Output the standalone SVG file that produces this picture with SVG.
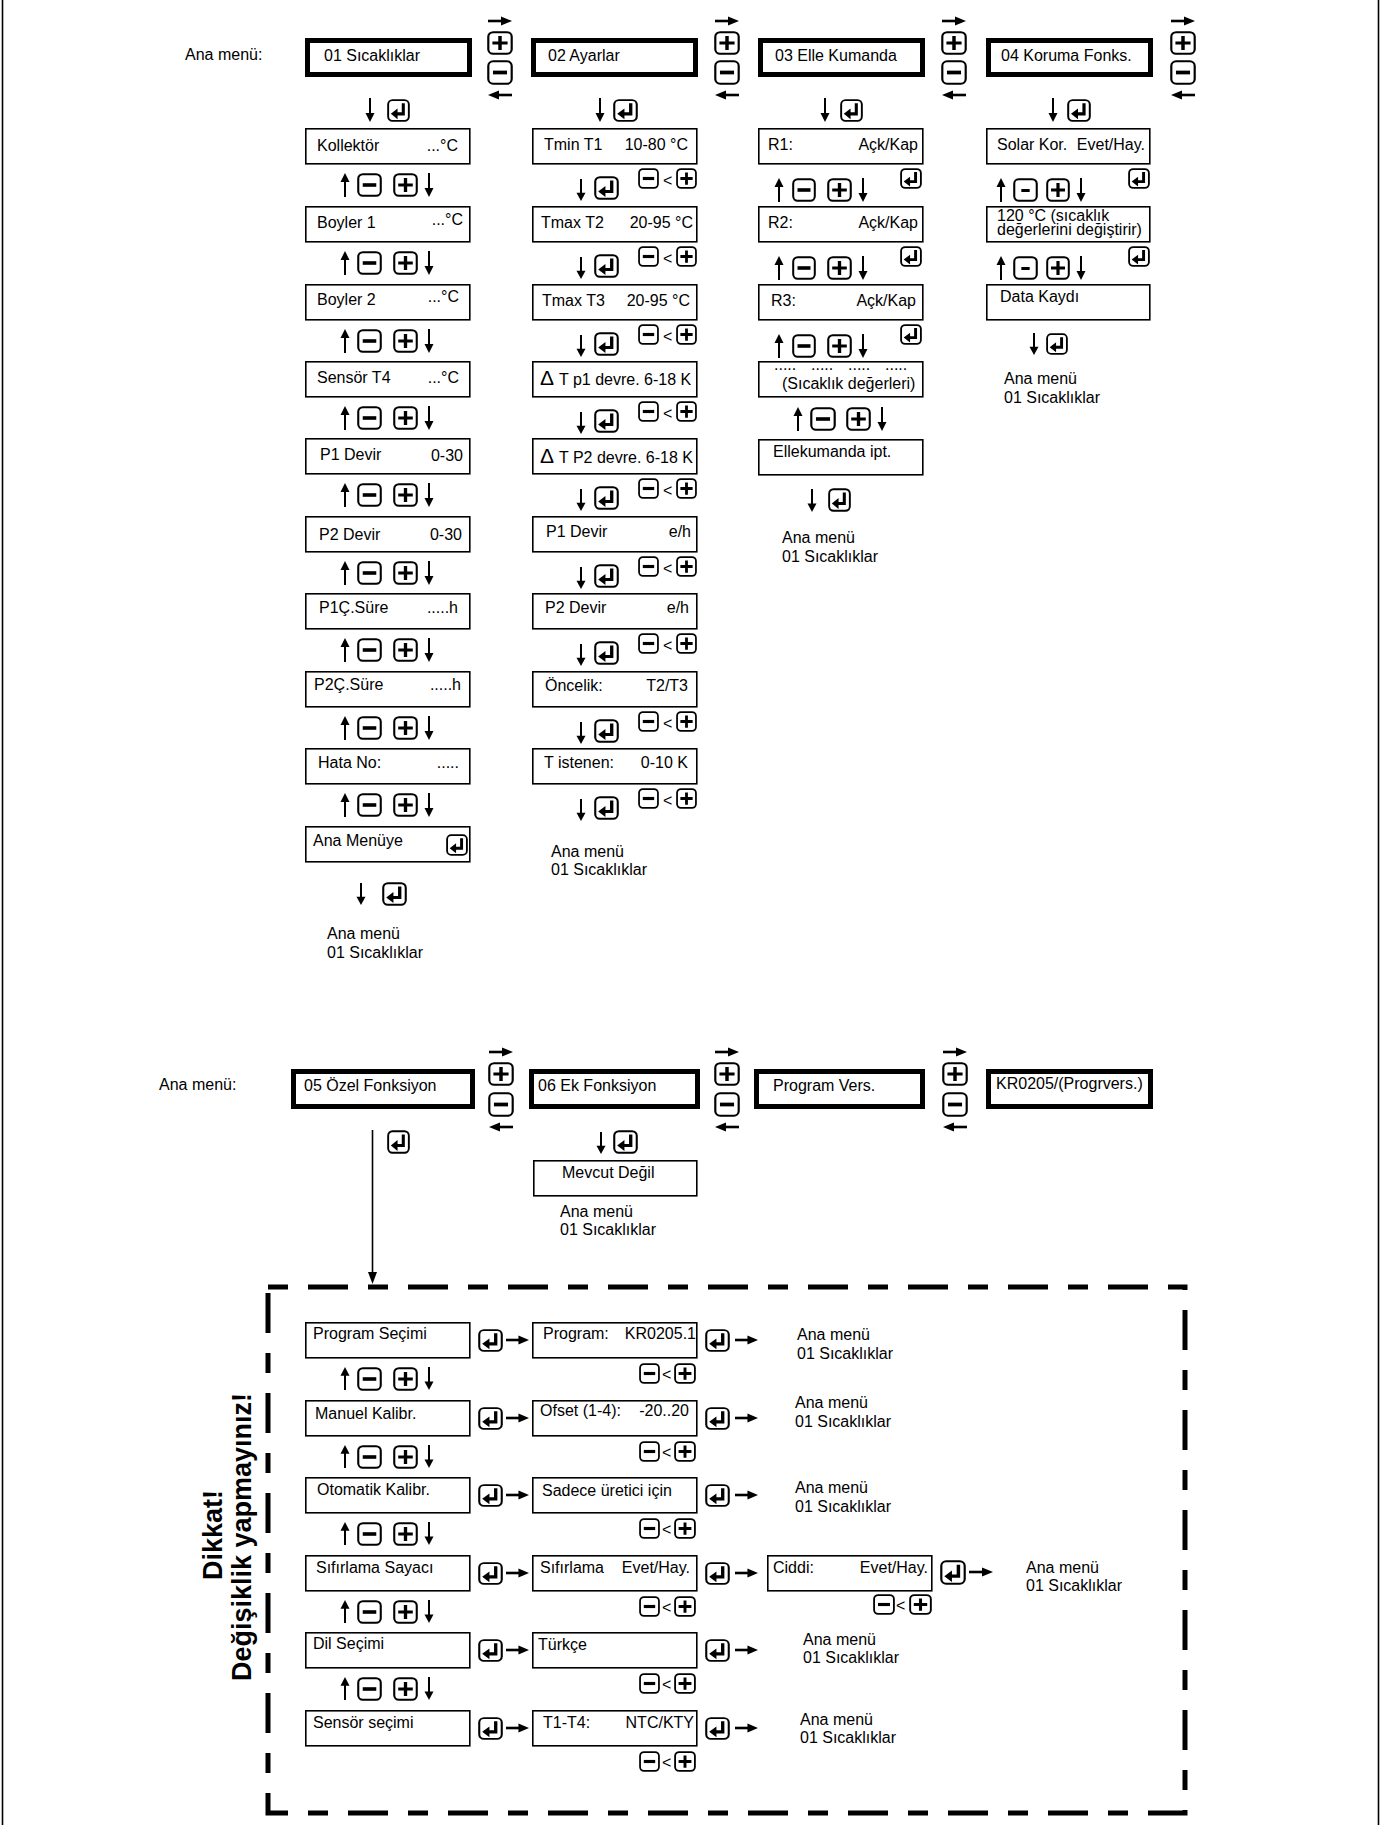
<svg xmlns="http://www.w3.org/2000/svg" width="1382" height="1825" viewBox="0 0 1382 1825">
<style>
text{font-family:"Liberation Sans",Arial,sans-serif;font-size:16px;fill:#000}
.e{text-anchor:end}
.lt{font-size:17px}
.w{font-weight:bold;font-size:27px;text-anchor:middle}
.mb{fill:#fff;stroke:#000;stroke-width:5}
.sb{fill:#fff;stroke:#000;stroke-width:1.6}
.ln{stroke:#000;stroke-width:1.6;fill:none}
.dash{fill:none;stroke:#000;stroke-width:5;stroke-dasharray:20 20 40 20}
</style>
<defs>
<symbol id="P" viewBox="0 0 24 24" preserveAspectRatio="none"><rect x="1.2" y="1.2" width="21.6" height="21.6" rx="4.5" fill="#fff" stroke="#000" stroke-width="2"/><path d="M5 12H19M12 5V19" stroke="#000" stroke-width="3.2"/></symbol>
<symbol id="M" viewBox="0 0 24 24" preserveAspectRatio="none"><rect x="1.2" y="1.2" width="21.6" height="21.6" rx="4.5" fill="#fff" stroke="#000" stroke-width="2"/><path d="M5.5 12H18.5" stroke="#000" stroke-width="3.6"/></symbol>
<symbol id="m" viewBox="0 0 24 24" preserveAspectRatio="none"><rect x="1.2" y="1.2" width="21.6" height="21.6" rx="4.5" fill="#fff" stroke="#000" stroke-width="2"/><path d="M8 12.5H16" stroke="#000" stroke-width="3"/></symbol>
<symbol id="E" viewBox="0 0 24 24" preserveAspectRatio="none"><rect x="1.2" y="1.2" width="21.6" height="21.6" rx="4.5" fill="#fff" stroke="#000" stroke-width="2"/><path d="M17 4.5V15.5H10" fill="none" stroke="#000" stroke-width="3.2"/><path d="M4 15.5L11 10V21Z"/></symbol>
<symbol id="U" viewBox="0 0 10 24" preserveAspectRatio="none"><path d="M5 24V7" stroke="#000" stroke-width="2"/><path d="M5 0L9.5 9H0.5Z"/></symbol>
<symbol id="D" viewBox="0 0 10 24" preserveAspectRatio="none"><path d="M5 0V17" stroke="#000" stroke-width="2"/><path d="M5 24L9.5 15H0.5Z"/></symbol>
<symbol id="R" viewBox="0 0 24 10" preserveAspectRatio="none"><path d="M0 5H15" stroke="#000" stroke-width="2.6"/><path d="M24 5L13 0.5V9.5Z"/></symbol>
<symbol id="L" viewBox="0 0 24 10" preserveAspectRatio="none"><path d="M9 5H24" stroke="#000" stroke-width="2.6"/><path d="M0 5L11 0.5V9.5Z"/></symbol>
</defs>
<rect width="1382" height="1825" fill="#fff"/>
<path d="M2.5 0V1825M1378.5 0V1825" class="ln"/>

<!-- ===== TOP: main menu row ===== -->
<text x="185" y="60">Ana menü:</text>
<g id="n01"><rect class="mb" x="307.5" y="40.5" width="162" height="34"/><text x="324" y="61">01 Sıcaklıklar</text></g>
<g id="n02"><rect class="mb" x="533.5" y="40.5" width="162" height="34"/><text x="548" y="61">02 Ayarlar</text></g>
<g id="n03"><rect class="mb" x="760.5" y="40.5" width="162" height="34"/><text x="775" y="61">03 Elle Kumanda</text></g>
<g id="n04"><rect class="mb" x="988.5" y="40.5" width="162" height="34"/><text x="1001" y="61">04 Koruma Fonks.</text></g>

<g id="connectors">
<!-- top +/- columns -->
<use href="#R" x="488" y="16" width="24" height="10"/><use href="#P" x="487" y="31" width="26" height="24"/><use href="#M" x="487" y="60" width="26" height="25"/><use href="#L" x="488" y="90" width="24" height="10"/>
<use href="#R" x="715" y="16" width="24" height="10"/><use href="#P" x="714" y="31" width="26" height="24"/><use href="#M" x="714" y="60" width="26" height="25"/><use href="#L" x="715" y="90" width="24" height="10"/>
<use href="#R" x="942" y="16" width="24" height="10"/><use href="#P" x="941" y="31" width="26" height="24"/><use href="#M" x="941" y="60" width="26" height="25"/><use href="#L" x="942" y="90" width="24" height="10"/>
<use href="#R" x="1171" y="16" width="24" height="10"/><use href="#P" x="1170" y="31" width="26" height="24"/><use href="#M" x="1170" y="60" width="26" height="25"/><use href="#L" x="1171" y="90" width="24" height="10"/>
<!-- down + enter under main boxes -->
<use href="#D" x="365" y="98" width="10" height="24"/><use href="#E" x="387" y="99" width="23" height="23"/>
<use href="#D" x="595" y="98" width="10" height="24"/><use href="#E" x="613" y="99" width="25" height="23"/>
<use href="#D" x="820" y="98" width="10" height="24"/><use href="#E" x="840" y="99" width="23" height="23"/>
<use href="#D" x="1048" y="98" width="10" height="24"/><use href="#E" x="1067" y="99" width="24" height="23"/>

<!-- col1 nav rows -->
<g id="c1nav">
<use href="#U" x="340" y="173" width="10" height="24"/><use href="#M" x="357" y="173" width="25" height="24"/><use href="#P" x="393" y="173" width="25" height="24"/><use href="#D" x="424" y="173" width="10" height="24"/>
<use href="#U" x="340" y="251" width="10" height="24"/><use href="#M" x="357" y="251" width="25" height="24"/><use href="#P" x="393" y="251" width="25" height="24"/><use href="#D" x="424" y="251" width="10" height="24"/>
<use href="#U" x="340" y="329" width="10" height="24"/><use href="#M" x="357" y="329" width="25" height="24"/><use href="#P" x="393" y="329" width="25" height="24"/><use href="#D" x="424" y="329" width="10" height="24"/>
<use href="#U" x="340" y="406" width="10" height="24"/><use href="#M" x="357" y="406" width="25" height="24"/><use href="#P" x="393" y="406" width="25" height="24"/><use href="#D" x="424" y="406" width="10" height="24"/>
<use href="#U" x="340" y="483" width="10" height="24"/><use href="#M" x="357" y="483" width="25" height="24"/><use href="#P" x="393" y="483" width="25" height="24"/><use href="#D" x="424" y="483" width="10" height="24"/>
<use href="#U" x="340" y="561" width="10" height="24"/><use href="#M" x="357" y="561" width="25" height="24"/><use href="#P" x="393" y="561" width="25" height="24"/><use href="#D" x="424" y="561" width="10" height="24"/>
<use href="#U" x="340" y="638" width="10" height="24"/><use href="#M" x="357" y="638" width="25" height="24"/><use href="#P" x="393" y="638" width="25" height="24"/><use href="#D" x="424" y="638" width="10" height="24"/>
<use href="#U" x="340" y="716" width="10" height="24"/><use href="#M" x="357" y="716" width="25" height="24"/><use href="#P" x="393" y="716" width="25" height="24"/><use href="#D" x="424" y="716" width="10" height="24"/>
<use href="#U" x="340" y="793" width="10" height="24"/><use href="#M" x="357" y="793" width="25" height="24"/><use href="#P" x="393" y="793" width="25" height="24"/><use href="#D" x="424" y="793" width="10" height="24"/>
<use href="#D" x="356" y="883" width="10" height="22"/><use href="#E" x="382" y="882" width="25" height="24"/>
</g>

<!-- col2 nav rows -->
<g id="c2nav">
<use href="#D" x="576" y="179" width="10" height="22"/><use href="#E" x="594" y="176" width="25" height="24"/><use href="#M" x="638" y="168" width="21" height="21"/><text x="663" y="186">&lt;</text><use href="#P" x="676" y="168" width="21" height="21"/>
<use href="#D" x="576" y="257" width="10" height="22"/><use href="#E" x="594" y="254" width="25" height="24"/><use href="#M" x="638" y="246" width="21" height="21"/><text x="663" y="264">&lt;</text><use href="#P" x="676" y="246" width="21" height="21"/>
<use href="#D" x="576" y="335" width="10" height="22"/><use href="#E" x="594" y="332" width="25" height="24"/><use href="#M" x="638" y="324" width="21" height="21"/><text x="663" y="342">&lt;</text><use href="#P" x="676" y="324" width="21" height="21"/>
<use href="#D" x="576" y="412" width="10" height="22"/><use href="#E" x="594" y="409" width="25" height="24"/><use href="#M" x="638" y="401" width="21" height="21"/><text x="663" y="419">&lt;</text><use href="#P" x="676" y="401" width="21" height="21"/>
<use href="#D" x="576" y="489" width="10" height="22"/><use href="#E" x="594" y="486" width="25" height="24"/><use href="#M" x="638" y="478" width="21" height="21"/><text x="663" y="496">&lt;</text><use href="#P" x="676" y="478" width="21" height="21"/>
<use href="#D" x="576" y="567" width="10" height="22"/><use href="#E" x="594" y="564" width="25" height="24"/><use href="#M" x="638" y="556" width="21" height="21"/><text x="663" y="574">&lt;</text><use href="#P" x="676" y="556" width="21" height="21"/>
<use href="#D" x="576" y="644" width="10" height="22"/><use href="#E" x="594" y="641" width="25" height="24"/><use href="#M" x="638" y="633" width="21" height="21"/><text x="663" y="651">&lt;</text><use href="#P" x="676" y="633" width="21" height="21"/>
<use href="#D" x="576" y="722" width="10" height="22"/><use href="#E" x="594" y="719" width="25" height="24"/><use href="#M" x="638" y="711" width="21" height="21"/><text x="663" y="729">&lt;</text><use href="#P" x="676" y="711" width="21" height="21"/>
<use href="#D" x="576" y="799" width="10" height="22"/><use href="#E" x="594" y="796" width="25" height="24"/><use href="#M" x="638" y="788" width="21" height="21"/><text x="663" y="806">&lt;</text><use href="#P" x="676" y="788" width="21" height="21"/>
</g>

<!-- col3 nav rows -->
<g id="c3nav">
<use href="#U" x="774" y="178" width="10" height="24"/><use href="#M" x="792" y="178" width="24" height="24"/><use href="#P" x="827" y="178" width="25" height="24"/><use href="#D" x="858" y="178" width="10" height="24"/><use href="#E" x="900" y="168" width="22" height="21"/>
<use href="#U" x="774" y="256" width="10" height="24"/><use href="#M" x="792" y="256" width="24" height="24"/><use href="#P" x="827" y="256" width="25" height="24"/><use href="#D" x="858" y="256" width="10" height="24"/><use href="#E" x="900" y="246" width="22" height="21"/>
<use href="#U" x="774" y="334" width="10" height="24"/><use href="#M" x="792" y="334" width="24" height="24"/><use href="#P" x="827" y="334" width="25" height="24"/><use href="#D" x="858" y="334" width="10" height="24"/><use href="#E" x="900" y="324" width="22" height="21"/>
<use href="#U" x="793" y="407" width="10" height="24"/><use href="#M" x="810" y="407" width="26" height="24"/><use href="#P" x="846" y="407" width="25" height="24"/><use href="#D" x="877" y="407" width="10" height="24"/>
<use href="#D" x="807" y="489" width="10" height="23"/><use href="#E" x="828" y="488" width="23" height="24"/>
</g>

<!-- col4 nav rows -->
<g id="c4nav">
<use href="#U" x="996" y="178" width="10" height="24"/><use href="#m" x="1013" y="178" width="25" height="24"/><use href="#P" x="1046" y="178" width="24" height="24"/><use href="#D" x="1076" y="178" width="10" height="24"/><use href="#E" x="1128" y="168" width="22" height="21"/>
<use href="#U" x="996" y="256" width="10" height="24"/><use href="#m" x="1013" y="256" width="25" height="24"/><use href="#P" x="1046" y="256" width="24" height="24"/><use href="#D" x="1076" y="256" width="10" height="24"/><use href="#E" x="1128" y="246" width="22" height="21"/>
<use href="#D" x="1029" y="333" width="10" height="22"/><use href="#E" x="1046" y="333" width="22" height="22"/>
</g>
</g>

<!-- col1 nodes -->
<g id="c1-1"><rect class="sb" x="305.8" y="128.8" width="164" height="35"/><text x="317" y="151">Kollektör</text><text class="e" x="458" y="151">...°C</text></g>
<g id="c1-2"><rect class="sb" x="305.8" y="206.8" width="164" height="35"/><text x="317" y="228">Boyler 1</text><text class="e" x="463" y="225">...°C</text></g>
<g id="c1-3"><rect class="sb" x="305.8" y="284.8" width="164" height="35"/><text x="317" y="305">Boyler 2</text><text class="e" x="459" y="302">...°C</text></g>
<g id="c1-4"><rect class="sb" x="305.8" y="361.8" width="164" height="35"/><text x="317" y="383">Sensör T4</text><text class="e" x="459" y="383">...°C</text></g>
<g id="c1-5"><rect class="sb" x="305.8" y="438.8" width="164" height="35"/><text x="320" y="460">P1 Devir</text><text class="e" x="463" y="461">0-30</text></g>
<g id="c1-6"><rect class="sb" x="305.8" y="516.8" width="164" height="35"/><text x="319" y="540">P2 Devir</text><text class="e" x="462" y="540">0-30</text></g>
<g id="c1-7"><rect class="sb" x="305.8" y="593.8" width="164" height="35"/><text x="319" y="613">P1Ç.Süre</text><text class="e" x="458" y="613">.....h</text></g>
<g id="c1-8"><rect class="sb" x="305.8" y="671.8" width="164" height="35"/><text x="314" y="690">P2Ç.Süre</text><text class="e" x="461" y="690">.....h</text></g>
<g id="c1-9"><rect class="sb" x="305.8" y="748.8" width="164" height="35"/><text x="318" y="768">Hata No:</text><text class="e" x="459" y="768">.....</text></g>
<g id="c1-10"><rect class="sb" x="305.8" y="826.8" width="164" height="35"/><text x="313" y="846">Ana Menüye</text><use href="#E" x="446" y="834" width="22" height="22"/></g>
<g id="c1-end"><text x="327" y="939">Ana menü</text><text x="327" y="958">01 Sıcaklıklar</text></g>

<!-- col2 nodes -->
<g id="c2-1"><rect class="sb" x="532.8" y="128.8" width="164" height="35"/><text x="544" y="150">Tmin T1</text><text class="e" x="688" y="150">10-80 °C</text></g>
<g id="c2-2"><rect class="sb" x="532.8" y="206.8" width="164" height="35"/><text x="541" y="228">Tmax T2</text><text class="e" x="693" y="228">20-95 °C</text></g>
<g id="c2-3"><rect class="sb" x="532.8" y="284.8" width="164" height="35"/><text x="542" y="306">Tmax T3</text><text class="e" x="690" y="306">20-95 °C</text></g>
<g id="c2-4"><rect class="sb" x="532.8" y="361.8" width="164" height="35"/><text x="540" y="385"><tspan font-size="21">Δ</tspan><tspan x="559">T p1 devre. 6-18 K</tspan></text></g>
<g id="c2-5"><rect class="sb" x="532.8" y="438.8" width="164" height="35"/><text x="540" y="463"><tspan font-size="21">Δ</tspan><tspan x="559">T P2 devre. 6-18 K</tspan></text></g>
<g id="c2-6"><rect class="sb" x="532.8" y="516.8" width="164" height="35"/><text x="546" y="537">P1 Devir</text><text class="e" x="691" y="537">e/h</text></g>
<g id="c2-7"><rect class="sb" x="532.8" y="593.8" width="164" height="35"/><text x="545" y="613">P2 Devir</text><text class="e" x="689" y="613">e/h</text></g>
<g id="c2-8"><rect class="sb" x="532.8" y="671.8" width="164" height="35"/><text x="545" y="691">Öncelik:</text><text class="e" x="688" y="691">T2/T3</text></g>
<g id="c2-9"><rect class="sb" x="532.8" y="748.8" width="164" height="35"/><text x="544" y="768">T istenen:</text><text class="e" x="688" y="768">0-10 K</text></g>
<g id="c2-end"><text x="551" y="857">Ana menü</text><text x="551" y="875">01 Sıcaklıklar</text></g>

<!-- col3 nodes -->
<g id="c3-1"><rect class="sb" x="758.8" y="128.8" width="164" height="35"/><text x="768" y="150">R1:</text><text class="e" x="918" y="150">Açk/Kap</text></g>
<g id="c3-2"><rect class="sb" x="758.8" y="206.8" width="164" height="35"/><text x="768" y="228">R2:</text><text class="e" x="918" y="228">Açk/Kap</text></g>
<g id="c3-3"><rect class="sb" x="758.8" y="284.8" width="164" height="35"/><text x="771" y="306">R3:</text><text class="e" x="916" y="306">Açk/Kap</text></g>
<g id="c3-4"><rect class="sb" x="758.8" y="361.8" width="164" height="35"/><text x="774" y="370">.....</text><text x="811" y="370">.....</text><text x="848" y="370">.....</text><text x="885" y="370">.....</text><text x="782" y="389">(Sıcaklık değerleri)</text></g>
<g id="c3-5"><rect class="sb" x="758.8" y="439.8" width="164" height="35"/><text x="773" y="457">Ellekumanda ipt.</text></g>
<g id="c3-end"><text x="782" y="543">Ana menü</text><text x="782" y="562">01 Sıcaklıklar</text></g>

<!-- col4 nodes -->
<g id="c4-1"><rect class="sb" x="986.8" y="128.8" width="163" height="35"/><text x="997" y="150">Solar Kor.</text><text class="e" x="1145" y="150">Evet/Hay.</text></g>
<g id="c4-2"><rect class="sb" x="986.8" y="206.8" width="163" height="35"/><text x="997" y="221">120 °C (sıcaklık</text><text x="997" y="235">değerlerini değiştirir)</text></g>
<g id="c4-3"><rect class="sb" x="986.8" y="284.8" width="163" height="35"/><text x="1000" y="302">Data Kaydı</text></g>
<g id="c4-end"><text x="1004" y="384">Ana menü</text><text x="1004" y="403">01 Sıcaklıklar</text></g>

<!-- ===== BOTTOM main row ===== -->
<text x="159" y="1090">Ana menü:</text>
<g id="n05"><rect class="mb" x="293.5" y="1071.5" width="179" height="35"/><text x="304" y="1091">05 Özel Fonksiyon</text></g>
<g id="n06"><rect class="mb" x="531.5" y="1071.5" width="166" height="35"/><text x="538" y="1091">06 Ek Fonksiyon</text></g>
<g id="n07"><rect class="mb" x="756.5" y="1071.5" width="166" height="35"/><text x="773" y="1091">Program Vers.</text></g>
<g id="n08"><rect class="mb" x="988.5" y="1071.5" width="162" height="35"/><text x="996" y="1089">KR0205/(Progrvers.)</text></g>
<g id="n06a"><rect class="sb" x="533.8" y="1160.8" width="163" height="35"/><text x="562" y="1178">Mevcut Değil</text></g>
<g id="n06end"><text x="560" y="1217">Ana menü</text><text x="560" y="1235">01 Sıcaklıklar</text></g>

<g id="connectors2">
<use href="#R" x="489" y="1047" width="24" height="10"/><use href="#P" x="488" y="1062" width="26" height="24"/><use href="#M" x="488" y="1092" width="26" height="25"/><use href="#L" x="489" y="1122" width="24" height="10"/>
<use href="#R" x="715" y="1047" width="24" height="10"/><use href="#P" x="714" y="1062" width="26" height="24"/><use href="#M" x="714" y="1092" width="26" height="25"/><use href="#L" x="715" y="1122" width="24" height="10"/>
<use href="#R" x="943" y="1047" width="24" height="10"/><use href="#P" x="942" y="1062" width="26" height="24"/><use href="#M" x="942" y="1092" width="26" height="25"/><use href="#L" x="943" y="1122" width="24" height="10"/>
<path d="M372.5 1130V1276" class="ln"/><path d="M372.5 1284L368 1272H377Z"/>
<use href="#E" x="387" y="1130" width="23" height="24"/>
<use href="#D" x="596" y="1132" width="10" height="22"/><use href="#E" x="613" y="1130" width="25" height="24"/>

<!-- dashed section nav -->
<use href="#E" x="478" y="1329" width="25" height="23"/><use href="#R" x="506" y="1335" width="23" height="10"/><use href="#E" x="705" y="1329" width="25" height="23"/><use href="#R" x="735" y="1335" width="23" height="10"/>
<use href="#E" x="478" y="1407" width="25" height="23"/><use href="#R" x="506" y="1413" width="23" height="10"/><use href="#E" x="705" y="1407" width="25" height="23"/><use href="#R" x="735" y="1413" width="23" height="10"/>
<use href="#E" x="478" y="1484" width="25" height="23"/><use href="#R" x="506" y="1490" width="23" height="10"/><use href="#E" x="705" y="1484" width="25" height="23"/><use href="#R" x="735" y="1490" width="23" height="10"/>
<use href="#E" x="478" y="1562" width="25" height="23"/><use href="#R" x="506" y="1568" width="23" height="10"/><use href="#E" x="705" y="1562" width="25" height="23"/><use href="#R" x="735" y="1568" width="23" height="10"/>
<use href="#E" x="478" y="1639" width="25" height="23"/><use href="#R" x="506" y="1645" width="23" height="10"/><use href="#E" x="705" y="1639" width="25" height="23"/><use href="#R" x="735" y="1645" width="23" height="10"/>
<use href="#E" x="478" y="1717" width="25" height="23"/><use href="#R" x="506" y="1723" width="23" height="10"/><use href="#E" x="705" y="1717" width="25" height="23"/><use href="#R" x="735" y="1723" width="23" height="10"/>
<use href="#E" x="940" y="1560" width="26" height="25"/><use href="#R" x="969" y="1567" width="24" height="10"/>

<use href="#M" x="639" y="1363" width="21" height="21"/><text x="662" y="1380">&lt;</text><use href="#P" x="674" y="1363" width="22" height="21"/>
<use href="#M" x="639" y="1441" width="21" height="21"/><text x="662" y="1458">&lt;</text><use href="#P" x="674" y="1441" width="22" height="21"/>
<use href="#M" x="639" y="1518" width="21" height="21"/><text x="662" y="1535">&lt;</text><use href="#P" x="674" y="1518" width="22" height="21"/>
<use href="#M" x="639" y="1596" width="21" height="21"/><text x="662" y="1613">&lt;</text><use href="#P" x="674" y="1596" width="22" height="21"/>
<use href="#M" x="639" y="1673" width="21" height="21"/><text x="662" y="1690">&lt;</text><use href="#P" x="674" y="1673" width="22" height="21"/>
<use href="#M" x="639" y="1751" width="21" height="21"/><text x="662" y="1768">&lt;</text><use href="#P" x="674" y="1751" width="22" height="21"/>
<use href="#M" x="873" y="1594" width="22" height="21"/><text x="896" y="1611">&lt;</text><use href="#P" x="909" y="1594" width="23" height="21"/>

<use href="#U" x="340" y="1367" width="10" height="23"/><use href="#M" x="357" y="1367" width="25" height="24"/><use href="#P" x="393" y="1367" width="25" height="24"/><use href="#D" x="424" y="1367" width="10" height="23"/>
<use href="#U" x="340" y="1445" width="10" height="23"/><use href="#M" x="357" y="1445" width="25" height="24"/><use href="#P" x="393" y="1445" width="25" height="24"/><use href="#D" x="424" y="1445" width="10" height="23"/>
<use href="#U" x="340" y="1522" width="10" height="23"/><use href="#M" x="357" y="1522" width="25" height="24"/><use href="#P" x="393" y="1522" width="25" height="24"/><use href="#D" x="424" y="1522" width="10" height="23"/>
<use href="#U" x="340" y="1600" width="10" height="23"/><use href="#M" x="357" y="1600" width="25" height="24"/><use href="#P" x="393" y="1600" width="25" height="24"/><use href="#D" x="424" y="1600" width="10" height="23"/>
<use href="#U" x="340" y="1677" width="10" height="23"/><use href="#M" x="357" y="1677" width="25" height="24"/><use href="#P" x="393" y="1677" width="25" height="24"/><use href="#D" x="424" y="1677" width="10" height="23"/>
</g>

<!-- dashed frame -->
<path class="dash" d="M268 1287H1185V1813H268Z"/>
<g id="warning">
<text class="w" transform="translate(222 1535) rotate(-90)">Dikkat!</text>
<text class="w" transform="translate(251 1537) rotate(-90)">Değişiklik yapmayınız!</text>
</g>

<!-- dashed section nodes -->
<g id="s1"><rect class="sb" x="305.8" y="1322.8" width="164" height="35"/><text x="313" y="1339">Program Seçimi</text></g>
<g id="s1b"><rect class="sb" x="532.8" y="1322.8" width="164" height="35"/><text x="543" y="1339">Program:</text><text class="e" x="696" y="1339">KR0205.1</text></g>
<g id="s1c"><text x="797" y="1340">Ana menü</text><text x="797" y="1359">01 Sıcaklıklar</text></g>
<g id="s2"><rect class="sb" x="305.8" y="1400.8" width="164" height="35"/><text x="315" y="1419">Manuel Kalibr.</text></g>
<g id="s2b"><rect class="sb" x="532.8" y="1400.8" width="164" height="35"/><text x="540" y="1416">Ofset (1-4):</text><text class="e" x="689" y="1416">-20..20</text></g>
<g id="s2c"><text x="795" y="1408">Ana menü</text><text x="795" y="1427">01 Sıcaklıklar</text></g>
<g id="s3"><rect class="sb" x="305.8" y="1477.8" width="164" height="35"/><text x="317" y="1495">Otomatik Kalibr.</text></g>
<g id="s3b"><rect class="sb" x="532.8" y="1477.8" width="164" height="35"/><text x="542" y="1496">Sadece üretici için</text></g>
<g id="s3c"><text x="795" y="1493">Ana menü</text><text x="795" y="1512">01 Sıcaklıklar</text></g>
<g id="s4"><rect class="sb" x="305.8" y="1555.8" width="164" height="35"/><text x="316" y="1573">Sıfırlama Sayacı</text></g>
<g id="s4b"><rect class="sb" x="532.8" y="1555.8" width="164" height="35"/><text x="540" y="1573">Sıfırlama</text><text class="e" x="690" y="1573">Evet/Hay.</text></g>
<g id="s4c"><rect class="sb" x="767.8" y="1555.8" width="164" height="35"/><text x="773" y="1573">Ciddi:</text><text class="e" x="928" y="1573">Evet/Hay.</text></g>
<g id="s4d"><text x="1026" y="1573">Ana menü</text><text x="1026" y="1591">01 Sıcaklıklar</text></g>
<g id="s5"><rect class="sb" x="305.8" y="1632.8" width="164" height="35"/><text x="313" y="1649">Dil Seçimi</text></g>
<g id="s5b"><rect class="sb" x="532.8" y="1632.8" width="164" height="35"/><text x="538" y="1650">Türkçe</text></g>
<g id="s5c"><text x="803" y="1645">Ana menü</text><text x="803" y="1663">01 Sıcaklıklar</text></g>
<g id="s6"><rect class="sb" x="305.8" y="1710.8" width="164" height="35"/><text x="313" y="1728">Sensör seçimi</text></g>
<g id="s6b"><rect class="sb" x="532.8" y="1710.8" width="164" height="35"/><text x="543" y="1728">T1-T4:</text><text class="e" x="694" y="1728">NTC/KTY</text></g>
<g id="s6c"><text x="800" y="1725">Ana menü</text><text x="800" y="1743">01 Sıcaklıklar</text></g>
</svg>
